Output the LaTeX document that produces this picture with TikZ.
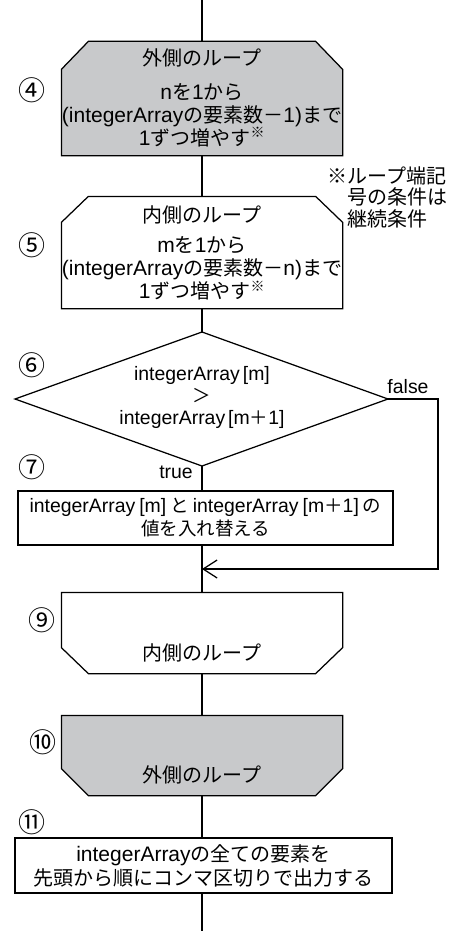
\documentclass[tikz,border=0pt]{standalone}
\usepackage{fontspec}
\setmainfont{Liberation Sans}[Scale=1.05]
\newfontfamily\jp{Noto Sans CJK JP}
\usetikzlibrary{arrows.meta}
\definecolor{loopgray}{RGB}{200,201,203}
\newcommand\J[1]{{\jp #1}}
\begin{document}
\begin{tikzpicture}[x=1pt,y=-1pt,line width=1.25pt,
  big/.style={font=\fontsize{20}{23}\selectfont,align=center,inner sep=0pt},
  mid/.style={font=\fontsize{18.5}{23}\selectfont,align=center,inner sep=0pt},
  num/.style={font=\jp\fontsize{27}{27}\selectfont,inner sep=0pt},
  lbl/.style={font=\fontsize{18.5}{18.5}\selectfont,inner sep=0pt},
  holder/.style={inner sep=0pt,minimum width=#1}
]
\useasboundingbox (0,0) rectangle (457,931);
\coordinate (top) at (202,0);
\coordinate (bot) at (202,931);

% box 4 (outer loop start)
\node[holder=280pt,minimum height=113pt] (b4) at (202,98.5) {};
\filldraw[fill=loopgray] ([xshift=27pt]b4.north west) -- ([xshift=-27pt]b4.north east)
  -- ([yshift=-28pt]b4.north east) -- (b4.south east) -- (b4.south west)
  -- ([yshift=-28pt]b4.north west) -- cycle;
\node[big] (t4a) at (202,58) {\J{外側のループ}};
\node[big] (t4b) at (202,115) {n\J{を}1\J{から}\\(integerArray\J{の要素数－}1)\J{まで}\\1\J{ずつ増やす}\textsuperscript{\J{※}}};
\node[num] (n4) at (32,90) {④};

% note
\node[font=\jp\fontsize{20}{21.5}\selectfont,align=left,anchor=west,inner sep=0pt] (note) at (327,197)
  {※ループ端記\\\hphantom{※}号の条件は\\\hphantom{※}継続条件};

% box 5 (inner loop start)
\node[holder=280pt,minimum height=111pt] (b5) at (202,252.5) {};
\draw ([xshift=27pt]b5.north west) -- ([xshift=-27pt]b5.north east)
  -- ([yshift=-26pt]b5.north east) -- (b5.south east) -- (b5.south west)
  -- ([yshift=-26pt]b5.north west) -- cycle;
\node[big] (t5a) at (202,215) {\J{内側のループ}};
\node[big] (t5b) at (202,268.5) {m\J{を}1\J{から}\\(integerArray\J{の要素数－}n)\J{まで}\\1\J{ずつ増やす}\textsuperscript{\J{※}}};
\node[num] (n5) at (32,245) {⑤};

% decision 6
\coordinate (dT) at (202,332);
\coordinate (dL) at (15,399);
\coordinate (dR) at (388,399);
\coordinate (dB) at (202,466);
\draw (dT) -- (dR) -- (dB) -- (dL) -- cycle;
\node[mid] (t6) at (202,397) {integerArray\hspace{3pt}[m]\\[-1pt]\J{＞}\\[-1pt]integerArray\hspace{3pt}[m\J{＋}1]};
\node[num] (n6) at (32,365) {⑥};
\node[lbl] (lf) at (408,387) {false};
\node[lbl] (ltr) at (176,472) {true};

% box 7
\node[draw,mid,minimum width=375pt,minimum height=54pt] (b7) at (205.5,518)
  {integerArray\hspace{4pt}[m]\hspace{4pt}\J{と}\hspace{4pt}integerArray\hspace{4pt}[m\J{＋}1]\hspace{4pt}\J{の}\\\J{値を入れ替える}};
\node[num] (n7) at (32,467) {⑦};

% box 9 (inner loop end)
\node[holder=280pt,minimum height=80pt] (b9) at (202,633) {};
\draw (b9.north west) -- (b9.north east) -- ([yshift=26pt]b9.south east)
  -- ([xshift=-27pt]b9.south east) -- ([xshift=27pt]b9.south west)
  -- ([yshift=26pt]b9.south west) -- cycle;
\node[big] (t9) at (202,653) {\J{内側のループ}};
\node[num] (n9) at (42,620) {⑨};

% box 10 (outer loop end)
\node[holder=280pt,minimum height=79pt] (b10) at (202,755.5) {};
\filldraw[fill=loopgray] (b10.north west) -- (b10.north east) -- ([yshift=27pt]b10.south east)
  -- ([xshift=-27pt]b10.south east) -- ([xshift=27pt]b10.south west)
  -- ([yshift=27pt]b10.south west) -- cycle;
\node[big] (t10) at (202,775) {\J{外側のループ}};
\node[num] (n10) at (43,742) {⑩};

% box 11
\node[draw,font=\fontsize{20}{24}\selectfont,align=center,inner sep=0pt,minimum width=377pt,minimum height=55pt] (b11) at (203.5,865.5)
  {integerArray\J{の全ての要素を}\\\J{先頭から順にコンマ区切りで出力する}};
\node[num] (n11) at (32,822) {⑪};

% connectors
\coordinate (fR) at (438,399);
\coordinate (fB) at (438,569);
\coordinate (merge) at (202,569);
\draw (top) -- (b4.north);
\draw (b4.south) -- (b5.north);
\draw (b5.south) -- (dT);
\draw (dB) -- (dB |- b7.north);
\draw (b7.south -| b9.north) -- (b9.north);
\draw[-{Straight Barb[length=14pt,width=18pt]}] (dR) -- (fR) -- (fB) -- (merge);
\draw (b9.south) -- (b10.north);
\draw (b10.south) -- (b10.south |- b11.north);
\draw (b10.south |- b11.south) -- (bot);
\end{tikzpicture}
\end{document}
